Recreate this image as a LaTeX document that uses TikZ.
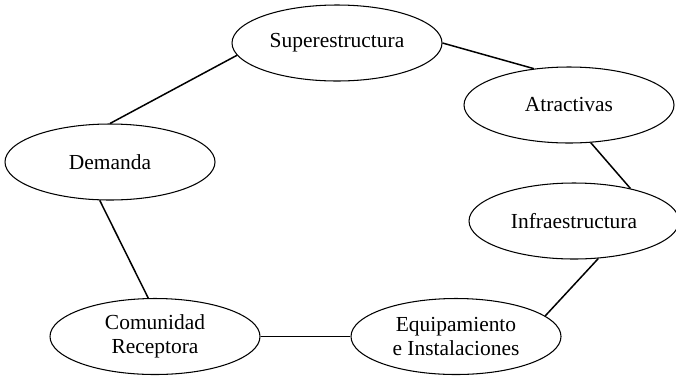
\documentclass[tikz,border=0pt]{standalone}
\usepackage{fontspec}
\setmainfont{Liberation Serif}
\usepackage{tikz}
\usetikzlibrary{shapes,positioning}

\begin{document}
\begin{tikzpicture}
        \tikzstyle{enode} = [draw=black, line width=0.6pt, ellipse, minimum width=4.2cm, minimum height=1.52cm, inner sep=0pt, align=center, font=\fontsize{12.2}{13.8}\selectfont]
        \tikzstyle{link} = [line width=0.85pt]

        \useasboundingbox (0,0) rectangle (13.52,7.52);

        \node[enode] (sup) at (6.74, 6.66) {Superestructura};
        \node[enode] (atr) at (11.38, 5.42) {Atractivas};
        \node[enode] (dem) at (2.20, 4.28) {Demanda};
        \node[enode] (inf) at (11.48, 3.10) {Infraestructura};
        \node[enode] (com) at (3.10, 0.79) {Comunidad\\Receptora};
        \node[enode] (equ) at (9.12, 0.79) {Equipamiento\\e Instalaciones};

        \draw[link] (sup.187) -- (dem.north);
        \draw[link] (sup.0) -- (atr.134);
        \draw[link] (atr.300) -- (inf.30);
        \draw[link] (inf.303) -- (equ.13);
        \draw[link] (equ.west) -- (com.east);
        \draw[link] (com.100) -- (dem.255);

      \end{tikzpicture}
\end{document}
